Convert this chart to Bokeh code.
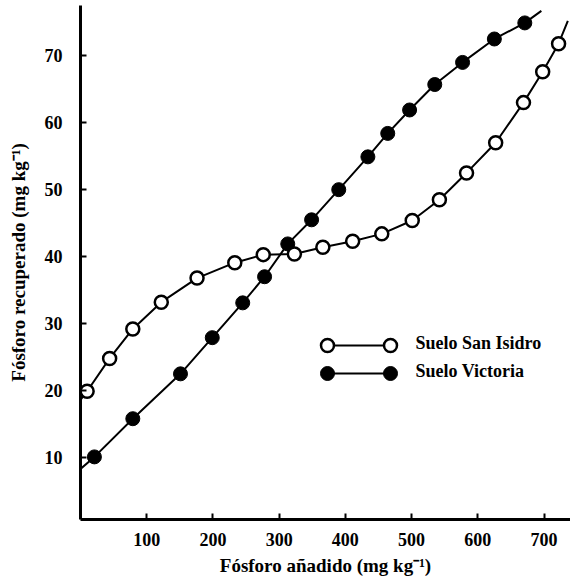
from bokeh.plotting import figure
from bokeh.models import Range1d, FixedTicker
from bokeh.core.properties import value
from bokeh.embed import file_html
from bokeh.resources import INLINE

# ---- data ----
x_san_isidro = [10, 44, 79, 122, 176, 233, 276, 323, 366, 411, 455, 501, 542, 583, 627, 669, 698, 722]
y_san_isidro = [19.9, 24.8, 29.2, 33.2, 36.8, 39.1, 40.3, 40.4, 41.4, 42.3, 43.4, 45.4, 48.5, 52.5, 57.0, 63.0, 67.6, 71.8]
x_victoria = [21, 79, 151, 199, 245, 278, 313, 349, 390, 434, 464, 497, 535, 577, 625, 671]
y_victoria = [10.1, 15.8, 22.5, 27.9, 33.1, 37.0, 41.9, 45.5, 50.0, 54.9, 58.4, 61.9, 65.7, 69.0, 72.5, 74.9]
# fitted curve extends past the first / last measured points
san_isidro_curve_start = (0, 18.6)
san_isidro_curve_end = (736, 75.2)
victoria_curve_start = (0, 8.3)
victoria_curve_end = (696, 76.7)

x_ticks = [100, 200, 300, 400, 500, 600, 700]
y_ticks = [10, 20, 30, 40, 50, 60, 70]
series_names = ["Suelo San Isidro", "Suelo Victoria"]
x_label = "Fósforo añadido (mg kg⁻¹)"
y_label = "Fósforo recuperado (mg kg⁻¹)"

FONT = "Liberation Serif"
FW, FH = 490, 514
BL, BT = 80, 5

p = figure(frame_width=FW, frame_height=FH, output_backend="svg", toolbar_location=None,
           x_range=Range1d(0, 740), y_range=Range1d(0.75, 77.5),
           min_border_left=BL, min_border_right=0, min_border_top=BT, min_border_bottom=0)
p.outline_line_color = None
p.xgrid.visible = False
p.ygrid.visible = False
p.background_fill_color = "white"
p.border_fill_color = "white"

for ax in (p.xaxis[0], p.yaxis[0]):
    ax.axis_line_width = 3
    ax.axis_line_color = "black"
    ax.major_tick_in = 6
    ax.major_tick_out = 0
    ax.major_tick_line_width = 2
    ax.major_tick_line_color = "black"
    ax.minor_tick_line_color = None
    ax.major_label_text_font = FONT
    ax.major_label_text_font_size = "18px"
    ax.major_label_text_font_style = "bold"
    ax.major_label_text_color = "black"
    ax.axis_label_text_font = FONT
    ax.axis_label_text_font_size = "19px"
    ax.axis_label_text_font_style = "bold"
    ax.axis_label_text_color = "black"

p.xaxis[0].ticker = FixedTicker(ticks=x_ticks)
p.yaxis[0].ticker = FixedTicker(ticks=y_ticks)
p.xaxis[0].axis_label = x_label
p.yaxis[0].axis_label = y_label
p.xaxis[0].major_label_standoff = 13
p.yaxis[0].major_label_standoff = 18
p.xaxis[0].axis_label_standoff = 6
p.yaxis[0].axis_label_standoff = 13

# curves
si_x = [san_isidro_curve_start[0]] + x_san_isidro + [san_isidro_curve_end[0]]
si_y = [san_isidro_curve_start[1]] + y_san_isidro + [san_isidro_curve_end[1]]
vi_x = [victoria_curve_start[0]] + x_victoria + [victoria_curve_end[0]]
vi_y = [victoria_curve_start[1]] + y_victoria + [victoria_curve_end[1]]
p.line(vi_x, vi_y, line_color="black", line_width=2)
p.line(si_x, si_y, line_color="black", line_width=2)
p.scatter(x_victoria, y_victoria, marker="circle", size=14, fill_color="black",
          line_color="black", line_width=1)
p.scatter(x_san_isidro, y_san_isidro, marker="circle", size=13, fill_color="white",
          line_color="black", line_width=2.5)

# legend drawn in frame pixel coordinates
p.extra_x_ranges = {"lg": Range1d(0, FW)}
p.extra_y_ranges = {"lg": Range1d(0, FH)}
lg_x0, lg_x1, lg_tx = 247, 310, 335
lg_rows = [174, 146]
styles = [dict(fill_color="white", line_width=2.5, size=13), dict(fill_color="black", line_width=1, size=14)]
for name, yy, st in zip(series_names, lg_rows, styles):
    p.line([lg_x0, lg_x1], [yy, yy], line_color="black", line_width=2,
           x_range_name="lg", y_range_name="lg")
    p.scatter([lg_x0, lg_x1], [yy, yy], marker="circle", line_color="black",
              x_range_name="lg", y_range_name="lg", **st)
    p.text([lg_tx], [yy + 3], text=[name], text_font=value(FONT), text_font_size="18px",
           text_font_style="bold", text_baseline="middle", text_align="left",
           text_color="black", x_range_name="lg", y_range_name="lg")

open("out.html", "w").write(file_html(p, INLINE))
